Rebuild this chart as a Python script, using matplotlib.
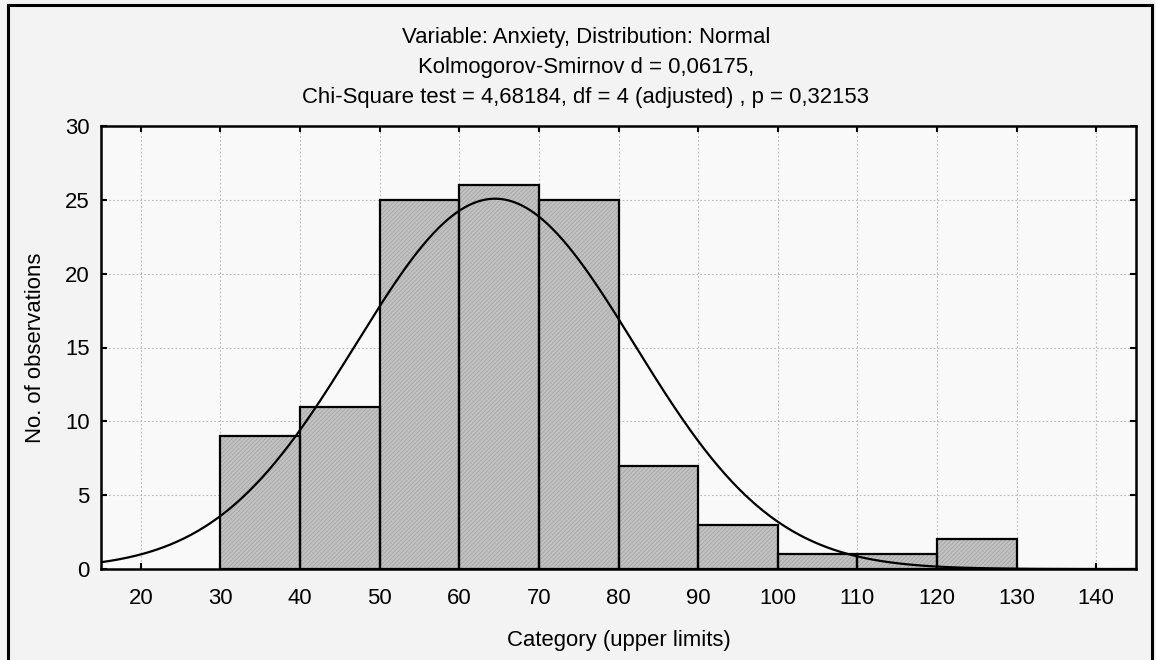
import numpy as np
import matplotlib
matplotlib.use("Agg")
import matplotlib.pyplot as plt
from matplotlib.patches import Rectangle

plt.rcParams['font.family'] = ['Liberation Sans', 'DejaVu Sans']
plt.rcParams['hatch.linewidth'] = 0.5
plt.rcParams['hatch.color'] = '#a0a0a0'

# Data
bin_upper = [40, 50, 60, 70, 80, 90, 100, 110, 120, 130]
counts = [9, 11, 25, 26, 25, 7, 3, 1, 1, 2]
bin_width = 10
fit_mean = 64.5
fit_sd = 17.5
x_ticks = [20, 30, 40, 50, 60, 70, 80, 90, 100, 110, 120, 130, 140]
y_ticks = [0, 5, 10, 15, 20, 25, 30]
title_lines = ["Variable: Anxiety, Distribution: Normal",
               "Kolmogorov-Smirnov d = 0,06175,",
               "Chi-Square test = 4,68184, df = 4 (adjusted) , p = 0,32153"]

FS = 15.9
W, H = 1156, 660
fig = plt.figure(figsize=(W/100, H/100), dpi=100, facecolor='#f3f3f3')
ax = fig.add_axes([101/W, 1-569/H, (1136-101)/W, (569-126)/H])
ax.set_facecolor('#f9f9f9')

lefts = [u - bin_width for u in bin_upper]
ax.bar(lefts, counts, width=bin_width, align='edge', color='#c2c2c2',
       edgecolor='#a0a0a0', linewidth=0, hatch='////////', zorder=2)
ax.bar(lefts, counts, width=bin_width, align='edge', fill=False,
       edgecolor='black', linewidth=1.6, zorder=3)

N = sum(counts)
xs = np.linspace(15, 145, 600)
ys = N * bin_width / (fit_sd * np.sqrt(2*np.pi)) * np.exp(-0.5*((xs-fit_mean)/fit_sd)**2)
ax.plot(xs, ys, color='black', lw=1.6, zorder=4)

ax.set_xlim(15, 145)
ax.set_ylim(0, 30)
ax.set_xticks(x_ticks)
ax.set_yticks(y_ticks)
ax.tick_params(direction='in', length=4, width=1.5, top=True, right=True,
               labelsize=FS, pad=8)
ax.tick_params(axis='x', pad=13.5)
ax.grid(True, color='#b8b8b8', linestyle=(0, (1.5, 2)), linewidth=0.8, zorder=1)
for s in ax.spines.values():
    s.set_linewidth(1.8)

ax.set_xlabel("Category (upper limits)", fontsize=FS, labelpad=15)
ax.set_ylabel("No. of observations", fontsize=FS, labelpad=14)

for i, t in enumerate(title_lines):
    fig.text(586/W, 1 - (37 + 30*i)/H, t, ha='center', va='center', fontsize=FS)

fig.add_artist(Rectangle((8/W, -0.05), (1152-8)/W, 1.05 - 5/H, transform=fig.transFigure,
                         fill=False, edgecolor='black', linewidth=2.2))

fig.savefig("out.png", dpi=100, facecolor=fig.get_facecolor())
